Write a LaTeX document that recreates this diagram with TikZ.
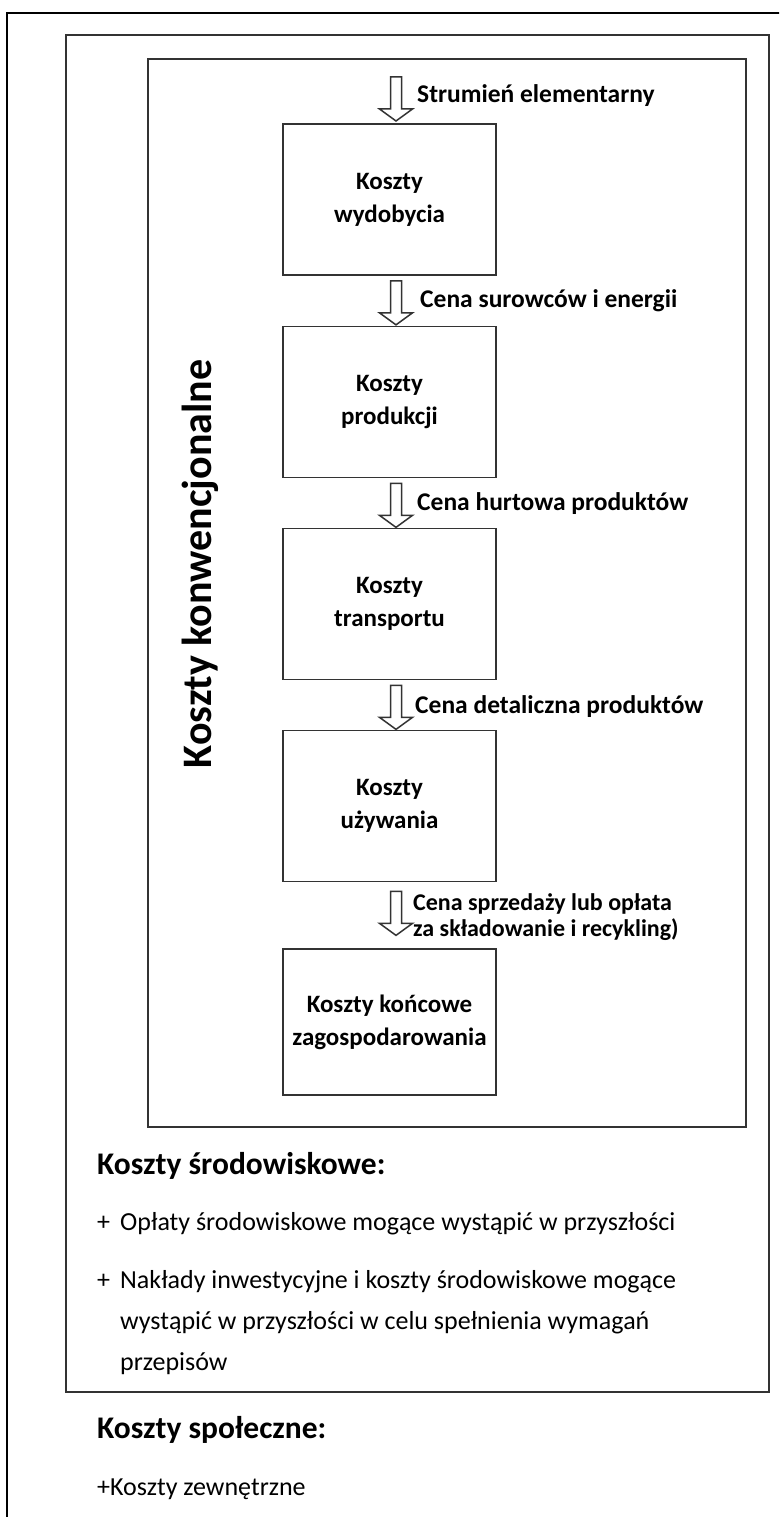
\documentclass[tikz,border=0pt]{standalone}
\usepackage{fontspec}
\setmainfont{Carlito}
\usetikzlibrary{calc}

\tikzset{
  outerframe/.style={draw=black, line width=2pt},
  frame/.style={draw=black!80, line width=2.2pt},
  costbox/.style={draw=black!80, line width=1.7pt, minimum width=213pt, minimum height=151pt,
    inner sep=0pt, align=center, font=\fontsize{25}{33}\selectfont\bfseries},
  flow/.style={draw=black!80, line width=1.5pt, fill=white, line join=miter},
  flowlabel/.style={anchor=base west, inner sep=0pt, font=\fontsize{25.5}{28}\selectfont\bfseries},
  heading/.style={anchor=base west, inner sep=0pt, font=\fontsize{31.5}{36}\selectfont\bfseries},
  item/.style={anchor=base west, inner sep=0pt, font=\fontsize{26}{41}\selectfont},
}
\newcommand\flowarrow[1]{\draw[flow] ($(#1)+(-5.5,0)$) -- ++(11,0) -- ++(0,32) -- ++(11,0)
  -- ++(-16.5,12) -- ++(-16.5,-12) -- ++(11,0) -- cycle;}

\begin{document}
\begin{tikzpicture}[x=1pt, y=-1pt]
  \clip (0,0) rectangle (779,1517);
  \draw[outerframe] (7,13) rectangle (800,1540);
  \draw[frame] (66,35) rectangle (769,1392);
  \draw[frame] (148,59) rectangle (746,1127);

  \node[costbox] (k1) at (389.5,199.5) {Koszty\\wydobycia};
  \node[costbox] (k2) at (389.5,402) {Koszty\\produkcji};
  \node[costbox] (k3) at (389.5,604) {Koszty\\transportu};
  \node[costbox] (k4) at (389.5,806) {Koszty\\używania};
  \node[costbox, minimum height=146pt] (k5) at (389.5,1022) {Koszty końcowe\\zagospodarowania};

  \coordinate (s1) at (396,77);
  \coordinate (s2) at ($(k1.south)+(6.5,5)$);
  \coordinate (s3) at ($(k2.south)+(6.5,5)$);
  \coordinate (s4) at ($(k3.south)+(6.5,5)$);
  \coordinate (s5) at ($(k4.south)+(6.5,9)$);
  \flowarrow{s1}
  \flowarrow{s2}
  \flowarrow{s3}
  \flowarrow{s4}
  \flowarrow{s5}

  \node[flowlabel] (l1) at (417,103) {Strumień elementarny};
  \node[flowlabel] (l2) at (420,307) {Cena surowców i energii};
  \node[flowlabel] (l3) at (417,510) {Cena hurtowa produktów};
  \node[flowlabel] (l4) at (415,713) {Cena detaliczna produktów};
  \node[flowlabel, anchor=west, align=left, font=\fontsize{24}{26}\selectfont\bfseries]
    (l5) at (413,917) {Cena sprzedaży lub opłata\\za składowanie i recykling)};

  \node[rotate=90, anchor=base, inner sep=0pt, font=\fontsize{42}{44}\selectfont\bfseries]
    (conv) at (211,564) {Koszty konwencjonalne};

  \node[heading] (env) at (97,1174) {Koszty środowiskowe:};
  \node[item] (p1) at (97,1230) {+};
  \node[item] (e1) at (120,1230) {Opłaty środowiskowe mogące wystąpić w przyszłości};
  \node[item] (p2) at (97,1288) {+};
  \node[item] (e2) at (120,1288) {Nakłady inwestycyjne i koszty środowiskowe mogące};
  \node[item] (e3) at (120,1329) {wystąpić w przyszłości w celu spełnienia wymagań};
  \node[item] (e4) at (120,1370) {przepisów};

  \node[heading] (soc) at (97,1438) {Koszty społeczne:};
  \node[item] (ext) at (97,1495) {+Koszty zewnętrzne};
\end{tikzpicture}
\end{document}
